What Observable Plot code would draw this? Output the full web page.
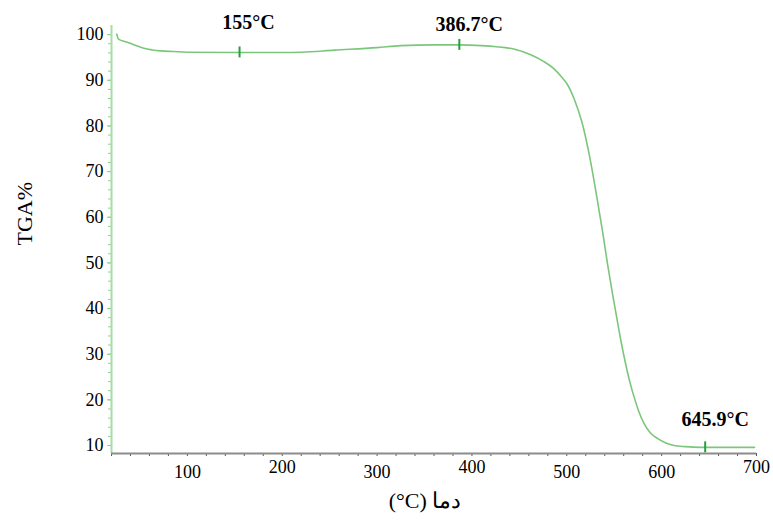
<!DOCTYPE html>
<html>
<head>
<meta charset="utf-8">
<script src="https://cdn.jsdelivr.net/npm/d3@7"></script>
<script src="https://cdn.jsdelivr.net/npm/@observablehq/plot@0.6"></script>
<style>
  html, body { margin: 0; padding: 0; background: white; }
</style>
</head>
<body>
<div id="chart"></div>
<script>
// Temperature (°C) and TGA (%)
const temps = [25.5, 27.7, 36, 43.5, 54, 63, 71.5, 85.5, 100, 155, 200, 220, 255, 300, 325, 360, 386.7, 410, 426, 445, 462, 475, 486, 495, 500, 508, 516, 525, 532, 538, 543, 548, 552, 557, 562, 567, 571, 576, 581.5, 588, 596, 605, 613, 625, 641, 660, 680, 698];
const tga   = [100.1, 98.95, 98.4, 97.8, 97.0, 96.65, 96.45, 96.3, 96.15, 96.1, 96.1, 96.15, 96.6, 97.15, 97.6, 97.75, 97.75, 97.6, 97.35, 96.8, 95.6, 94.2, 92.6, 90.6, 89.3, 85.8, 80.8, 72.3, 64.0, 56.5, 49.7, 43.5, 38.8, 33.0, 27.9, 23.5, 20.6, 17.4, 14.8, 12.8, 11.5, 10.5, 10.0, 9.75, 9.6, 9.6, 9.6, 9.6];

// Marked points
const annoT = [155, 386.7, 645.9];
const annoV = [96.1, 97.75, 9.6];
const annoLabels = ["155°C", "386.7°C", "645.9°C"];

// Axis ticks
const yTicks = [10, 20, 30, 40, 50, 60, 70, 80, 90, 100];
const yMinor = d3.range(10, 102, 2);
const xTicksLow = [100, 300, 500, 600];
const xTicksHigh = [200, 400, 700];
const xMinor = d3.range(20, 701, 20);

// Axis titles
const xTitleWord = "دما";
const xTitleUnit = "(°C)";
const yTitle = "TGA%";

const data = temps.map((t, i) => ({t, v: tga[i]}));
const annos = annoT.map((t, i) => ({t, v: annoV[i], label: annoLabels[i]}));
// right-to-left title with the unit kept left-to-right
const xTitle = "\u202B" + xTitleWord + " \u2066" + xTitleUnit + "\u2069\u202C";

const serif = "'Liberation Serif', 'Times New Roman', 'DejaVu Serif', serif";
const xMin = 20, yMin = 8.25;

const chart = Plot.plot({
  width: 773,
  height: 522,
  marginLeft: 111,
  marginRight: 17,
  marginTop: 25,
  marginBottom: 69,
  x: {domain: [xMin, 700]},
  y: {domain: [yMin, 102]},
  style: {fontFamily: serif, fontSize: "18px", color: "black", background: "white"},
  marks: [
    Plot.axisY(yMinor, {tickSize: 3, text: null, stroke: "#8fcf8f", label: null}),
    Plot.axisY(yTicks, {tickSize: 4, tickPadding: 4, stroke: "#8fcf8f", label: null, fontSize: 18}),
    Plot.ruleX([xMin], {stroke: "#a8dca8", strokeWidth: 2}),
    Plot.axisX(xMinor, {tickSize: 3, text: null, stroke: "#555", label: null}),
    Plot.ruleY([yMin], {stroke: "#8c8c8c", strokeWidth: 2}),
    Plot.axisX(xTicksLow, {tickSize: 0, tickPadding: 12, label: null, fontSize: 18}),
    Plot.axisX(xTicksHigh, {tickSize: 0, tickPadding: 7, label: null, fontSize: 18}),
    Plot.line(data, {x: "t", y: "v", stroke: "#7cc67c", strokeWidth: 1.6, curve: "monotone-x"}),
    Plot.ruleX(annos, {x: "t", y1: d => d.v - 1.2, y2: d => d.v + 1.2, stroke: "#22a03a", strokeWidth: 2}),
    Plot.text(annos.slice(0, 1), {x: "t", y: "v", text: "label", dx: 9, dy: -30, fontWeight: "bold", fontSize: 20}),
    Plot.text(annos.slice(1, 2), {x: "t", y: "v", text: "label", dx: 10, dy: -20, fontWeight: "bold", fontSize: 20}),
    Plot.text(annos.slice(2, 3), {x: "t", y: "v", text: "label", dx: 10, dy: -28, fontWeight: "bold", fontSize: 20}),
    Plot.text([yTitle], {frameAnchor: "left", rotate: -90, dx: -87, dy: 6, fontSize: 22}),
    Plot.text([xTitle], {frameAnchor: "bottom", dx: -9, dy: 54, fontSize: 22})
  ]
});
document.getElementById("chart").appendChild(chart);
</script>
</body>
</html>
